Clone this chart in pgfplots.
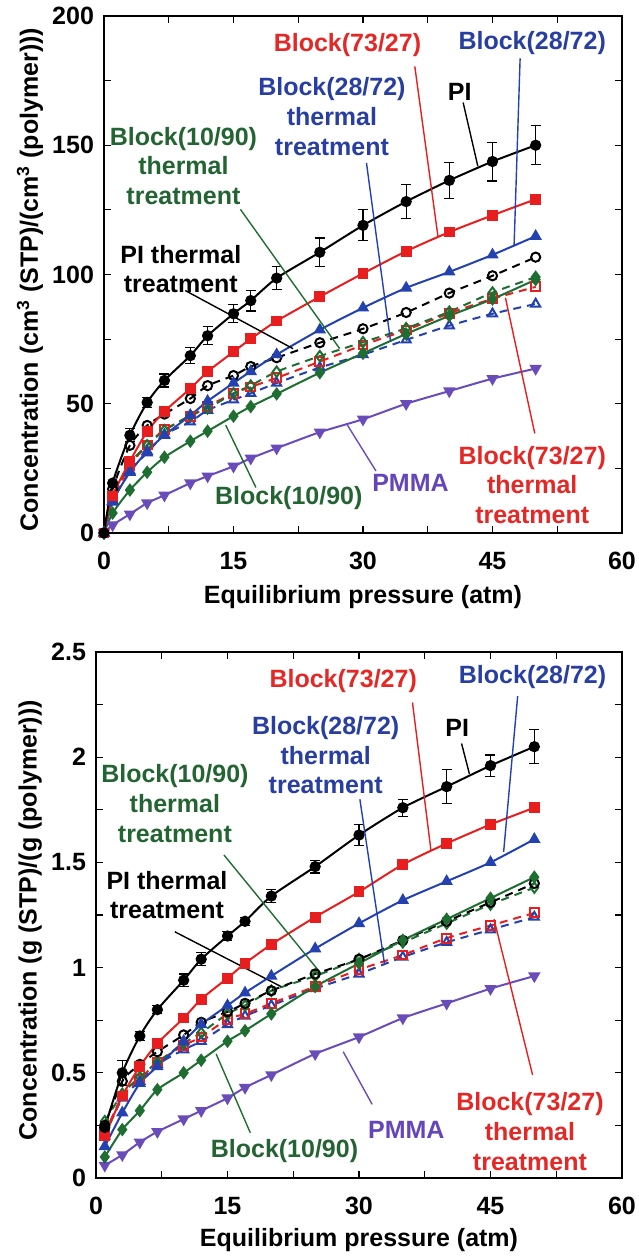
\documentclass[border=0pt]{standalone}
\usepackage{fontspec}
\setmainfont{Liberation Sans}
\usepackage{pgfplots}
\pgfplotsset{compat=1.18}
\definecolor{cred}{RGB}{232,30,30}
\definecolor{cblue}{RGB}{35,65,175}
\definecolor{cgreen}{RGB}{30,110,50}
\definecolor{cpurple}{RGB}{105,75,185}
\definecolor{tred}{RGB}{228,40,38}
\definecolor{tblue}{RGB}{40,62,160}
\definecolor{tgreen}{RGB}{35,100,50}
\definecolor{tpurple}{RGB}{100,70,185}
\newcommand{\ff}{\fontsize{12.5}{14.9}\selectfont\bfseries}
\tikzset{
  ann/.style={font=\ff, align=center},
  lead/.style={line width=0.7pt},
}
\pgfplotsset{
  myaxis/.style={
    scale only axis,
    xmin=0, xmax=60,
    xtick={0,15,30,45,60},
    minor x tick num=1,
    minor y tick num=1,
    tick align=inside,
    major tick length=3.5pt, minor tick length=3.5pt,
    every tick/.style={line width=0.6pt, black},
    axis line style={line width=0.8pt},
    ticklabel style={font=\ff},
    /pgf/number format/assume math mode=true,
    label style={font=\ff},
    xticklabel style={yshift=-6pt},
    yticklabel style={xshift=-1.5pt},
    xlabel={Equilibrium pressure (atm)},
    clip=false,
  },
  lsolid/.style={line width=1pt, smooth, tension=0.4},
  ldash/.style={line width=1pt, smooth, tension=0.4, dash pattern=on 4pt off 3pt},
}
\begin{document}
\begin{tikzpicture}
\useasboundingbox (0,0) rectangle (319pt,628pt);
% ---------------- TOP PANEL ----------------
\begin{axis}[myaxis,
  at={(52pt,361.5pt)}, anchor=south west,
  width=259pt, height=258.5pt,
  ymin=0, ymax=200,
  ytick={0,50,100,150,200},
  ylabel={Concentration (cm\textsuperscript{3} (STP)/(cm\textsuperscript{3} (polymer)))},
  ylabel style={at={(axis description cs:-0.143,0.49)}, anchor=center},
  xlabel style={at={(axis description cs:0.5,-0.124)}, anchor=center},
]
% PMMA
\addplot[lsolid, color=cpurple, mark=triangle*, mark size=2.6pt, mark options={solid, rotate=180, fill=cpurple}] coordinates {
(0,0) (1,3.1) (3,7.3) (5,11.6) (7,14.6) (10,19.3) (12,22.0) (15,25.8) (17,28.9) (20,32.8) (25,39.0) (30,44.0) (35,50.0) (40,54.9) (45,59.7) (50,63.6)};
% Block(28/72) thermal
\addplot[ldash, color=cblue, mark=triangle, mark size=2.6pt, mark options={solid, fill=white}] coordinates {
(0,0) (1,12) (3,24) (5,31) (7,38) (10,43) (12,47.5) (15,51.5) (17,54) (20,58) (25,64) (30,69.0) (35,74.7) (40,80.2) (45,84.8) (50,88.6)};
% Block(73/27) thermal
\addplot[ldash, color=cred, mark=square, mark size=2.2pt, mark options={solid, fill=white}] coordinates {
(0,0) (1,13) (3,26) (5,34) (7,40) (10,45) (12,49) (15,54) (17,56.5) (20,60) (25,66.3) (30,72.7) (35,78.5) (40,85.0) (45,90.6) (50,95.2)};
% Block(10/90) thermal
\addplot[ldash, color=cgreen, mark=diamond, mark size=2.6pt, mark options={solid, fill=white}] coordinates {
(0,0) (1,14) (3,27) (5,33.9) (7,39.7) (10,45.5) (12,48.2) (15,54.0) (17,57.0) (20,62.4) (25,68.4) (30,73.8) (35,79.2) (40,85.6) (45,93.0) (50,99.0)};
% PI thermal
\addplot[ldash, color=black, mark=o, mark size=2.3pt, mark options={solid, fill=white}] coordinates {
(0,0) (1,17) (3,33.9) (5,41.6) (7,46) (10,52.0) (12,57.0) (15,60.9) (17,64.4) (20,67.8) (25,73.6) (30,79.0) (35,85.3) (40,92.8) (45,99.5) (50,106.7)};
% Block(10/90)
\addplot[lsolid, color=cgreen, mark=diamond*, mark size=2.6pt, mark options={solid, fill=cgreen}] coordinates {
(0,0) (1,7.7) (3,16.6) (5,23.5) (7,29.3) (10,35.5) (12,39.4) (15,45.2) (17,48.9) (20,53.8) (25,62.0) (30,69.5) (35,77.0) (40,84.0) (45,90.5) (50,98)};
% Block(28/72)
\addplot[lsolid, color=cblue, mark=triangle*, mark size=2.6pt, mark options={solid, fill=cblue}] coordinates {
(0,0) (1,12.3) (3,23.5) (5,31.6) (7,37.8) (10,45.5) (12,51.0) (15,58.0) (17,62.5) (20,69.0) (25,78.6) (30,87.1) (35,94.8) (40,101.0) (45,107.6) (50,114.8)};
% Block(73/27)
\addplot[lsolid, color=cred, mark=square*, mark size=2.2pt, mark options={solid, fill=cred}] coordinates {
(0,0) (1,14.3) (3,27.7) (5,39.3) (7,47.0) (10,55.9) (12,62.4) (15,70.1) (17,75.1) (20,82.0) (25,91.4) (30,100.4) (35,109.0) (40,116.4) (45,122.9) (50,129.1)};
% PI
\addplot[lsolid, color=black, mark=*, mark size=2.3pt, mark options={solid, fill=black},
  error bars/.cd, y dir=both, y explicit,
  error bar style={line width=0.6pt, black},
  error mark options={rotate=90, mark size=2.5pt, line width=0.6pt, black}] coordinates {
(0,0) +- (0,0)
(1,19.3) +- (0,0)
(3,37.8) +- (0,2.5)
(5,50.5) +- (0,2)
(7,59.0) +- (0,2.5)
(10,68.6) +- (0,3)
(12,76.3) +- (0,3.5)
(15,84.8) +- (0,3.5)
(17,89.9) +- (0,4)
(20,98.6) +- (0,4.5)
(25,108.6) +- (0,5.5)
(30,119.0) +- (0,6)
(35,128.2) +- (0,6.5)
(40,136.4) +- (0,7)
(45,143.7) +- (0,7.5)
(50,150) +- (0,7.5)};
% annotations
\node[ann, text=tred] at (axis cs:28.2,188.8) {Block(73/27)};
\draw[lead, cred] (axis cs:36,180.5) -- (axis cs:38.7,114.3);
\node[ann, text=tblue] at (axis cs:49.6,189.5) {Block(28/72)};
\draw[lead, cblue] (axis cs:48.2,183.6) -- (axis cs:47.5,111);
\node[ann, text=black] at (axis cs:41.2,170.8) {PI};
\draw[lead, black] (axis cs:41.6,166.5) -- (axis cs:43.3,141.9);
\node[ann, text=tblue] at (axis cs:26.4,161.2) {Block(28/72)\\thermal\\treatment};
\draw[lead, cblue] (axis cs:30.4,143.2) -- (axis cs:33.2,73.9);
\node[ann, text=tgreen] at (axis cs:9.2,142) {Block(10/90)\\thermal\\treatment};
\draw[lead, cgreen] (axis cs:15.8,125.2) -- (axis cs:27.3,71.3);
\node[ann, text=black] at (axis cs:8.9,102.1) {PI thermal\\treatment};
\draw[lead, black] (axis cs:9.4,93.8) -- (axis cs:21.9,71.3);
\node[ann, text=tgreen] at (axis cs:21.4,13.5) {Block(10/90)};
\draw[lead, cgreen] (axis cs:17.6,17.6) -- (axis cs:14.1,41.7);
\node[ann, text=tpurple] at (axis cs:35.5,19.3) {PMMA};
\draw[lead, cpurple] (axis cs:31.5,24.0) -- (axis cs:28.2,41.7);
\node[ann, text=tred] at (axis cs:49.6,18.6) {Block(73/27)\\thermal\\treatment};
\draw[lead, cred] (axis cs:49.9,38.5) -- (axis cs:46.5,91);
\end{axis}
% ---------------- BOTTOM PANEL ----------------
\begin{axis}[myaxis,
  at={(48pt,39pt)}, anchor=south west,
  width=263pt, height=263pt,
  ymin=0, ymax=2.5,
  ytick={0,0.5,1,1.5,2,2.5},
  ylabel={Concentration (g (STP)/(g (polymer)))},
  ylabel style={at={(axis description cs:-0.125,0.49)}, anchor=center},
  xlabel style={at={(axis description cs:0.5,-0.118)}, anchor=center},
]
% PMMA
\addplot[lsolid, color=cpurple, mark=triangle*, mark size=2.6pt, mark options={solid, rotate=180, fill=cpurple}] coordinates {
(1,0.06) (3,0.11) (5,0.17) (7,0.22) (10,0.28) (12,0.32) (15,0.38) (17,0.43) (20,0.49) (25,0.59) (30,0.67) (35,0.76) (40,0.83) (45,0.90) (50,0.96)};
% Block(28/72) thermal
\addplot[ldash, color=cblue, mark=triangle, mark size=2.6pt, mark options={solid, fill=white}] coordinates {
(1,0.20) (3,0.38) (5,0.46) (7,0.54) (10,0.61) (12,0.65) (15,0.73) (17,0.77) (20,0.82) (25,0.90) (30,0.97) (35,1.05) (40,1.12) (45,1.18) (50,1.24)};
% Block(73/27) thermal
\addplot[ldash, color=cred, mark=square, mark size=2.2pt, mark options={solid, fill=white}] coordinates {
(1,0.21) (3,0.39) (5,0.47) (7,0.55) (10,0.63) (12,0.67) (15,0.755) (17,0.78) (20,0.83) (25,0.91) (30,0.99) (35,1.06) (40,1.14) (45,1.20) (50,1.26)};
% Block(10/90) thermal
\addplot[ldash, color=cgreen, mark=diamond, mark size=2.6pt, mark options={solid, fill=white}] coordinates {
(1,0.27) (3,0.40) (5,0.48) (7,0.55) (10,0.64) (12,0.69) (15,0.78) (17,0.82) (20,0.89) (25,0.96) (30,1.04) (35,1.12) (40,1.21) (45,1.30) (50,1.38)};
% PI thermal
\addplot[ldash, color=black, mark=o, mark size=2.3pt, mark options={solid, fill=white}] coordinates {
(1,0.25) (3,0.46) (5,0.54) (7,0.60) (10,0.68) (12,0.74) (15,0.79) (17,0.83) (20,0.89) (25,0.97) (30,1.04) (35,1.13) (40,1.22) (45,1.31) (50,1.40)};
% Block(10/90)
\addplot[lsolid, color=cgreen, mark=diamond*, mark size=2.6pt, mark options={solid, fill=cgreen}] coordinates {
(1,0.10) (3,0.23) (5,0.32) (7,0.42) (10,0.50) (12,0.56) (15,0.65) (17,0.70) (20,0.78) (25,0.91) (30,1.02) (35,1.13) (40,1.23) (45,1.33) (50,1.43)};
% Block(28/72)
\addplot[lsolid, color=cblue, mark=triangle*, mark size=2.6pt, mark options={solid, fill=cblue}] coordinates {
(1,0.15) (3,0.31) (5,0.45) (7,0.53) (10,0.65) (12,0.73) (15,0.82) (17,0.88) (20,0.96) (25,1.09) (30,1.21) (35,1.32) (40,1.41) (45,1.50) (50,1.61)};
% Block(73/27)
\addplot[lsolid, color=cred, mark=square*, mark size=2.2pt, mark options={solid, fill=cred}] coordinates {
(1,0.20) (3,0.39) (5,0.53) (7,0.64) (10,0.76) (12,0.85) (15,0.95) (17,1.02) (20,1.11) (25,1.24) (30,1.36) (35,1.49) (40,1.59) (45,1.68) (50,1.76)};
% PI
\addplot[lsolid, color=black, mark=*, mark size=2.3pt, mark options={solid, fill=black},
  error bars/.cd, y dir=both, y explicit,
  error bar style={line width=0.6pt, black},
  error mark options={rotate=90, mark size=2.5pt, line width=0.6pt, black}] coordinates {
(1,0.24) +- (0,0.02)
(3,0.50) +- (0,0.06)
(5,0.675) +- (0,0.02)
(7,0.80) +- (0,0.02)
(10,0.94) +- (0,0.03)
(12,1.04) +- (0,0.03)
(15,1.15) +- (0,0.02)
(17,1.22) +- (0,0.02)
(20,1.34) +- (0,0.03)
(25,1.48) +- (0,0.03)
(30,1.63) +- (0,0.05)
(35,1.76) +- (0,0.04)
(40,1.86) +- (0,0.08)
(45,1.96) +- (0,0.05)
(50,2.05) +- (0,0.08)};
% annotations
\node[ann, text=tred] at (axis cs:28.2,2.36) {Block(73/27)};
\draw[lead, cred] (axis cs:36.1,2.26) -- (axis cs:38.2,1.56);
\node[ann, text=tblue] at (axis cs:49.8,2.38) {Block(28/72)};
\draw[lead, cblue] (axis cs:48.1,2.29) -- (axis cs:46.5,1.55);
\node[ann, text=black] at (axis cs:41.2,2.14) {PI};
\draw[lead, black] (axis cs:41.7,2.065) -- (axis cs:42.6,1.92);
\node[ann, text=tblue] at (axis cs:26.2,2.01) {Block(28/72)\\thermal\\treatment};
\draw[lead, cblue] (axis cs:30.1,1.80) -- (axis cs:32.9,1.02);
\node[ann, text=tgreen] at (axis cs:9.0,1.78) {Block(10/90)\\thermal\\treatment};
\draw[lead, cgreen] (axis cs:14.6,1.535) -- (axis cs:25.7,0.97);
\node[ann, text=black] at (axis cs:8.1,1.345) {PI thermal\\treatment};
\draw[lead, black] (axis cs:9.0,1.17) -- (axis cs:21.1,0.91);
\node[ann, text=tgreen] at (axis cs:21.5,0.13) {Block(10/90)};
\draw[lead, cgreen] (axis cs:17.6,0.215) -- (axis cs:13.7,0.59);
\node[ann, text=tpurple] at (axis cs:35.4,0.23) {PMMA};
\draw[lead, cpurple] (axis cs:31.5,0.35) -- (axis cs:28.2,0.60);
\node[ann, text=tred] at (axis cs:49.5,0.22) {Block(73/27)\\thermal\\treatment};
\draw[lead, cred] (axis cs:49.8,0.49) -- (axis cs:45.4,1.23);
\end{axis}
\end{tikzpicture}
\end{document}
